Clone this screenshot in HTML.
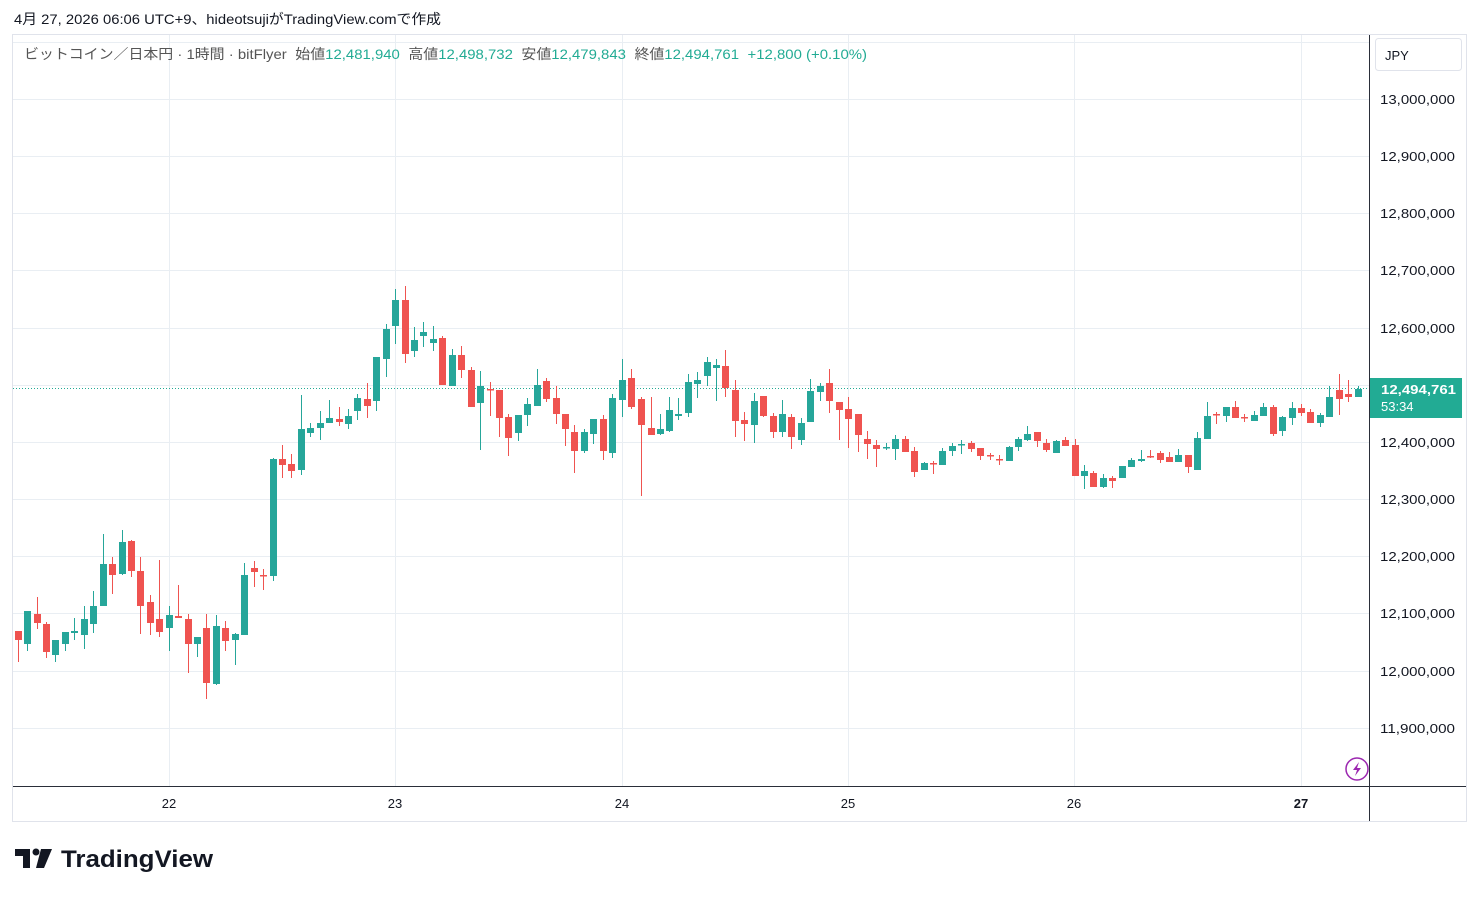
<!DOCTYPE html>
<html><head><meta charset="utf-8"><style>
body{margin:0;background:#fff;width:1479px;height:896px;overflow:hidden;font-family:"Liberation Sans","Noto Sans CJK JP",sans-serif}
</style></head><body>
<svg width="1479" height="896" xmlns="http://www.w3.org/2000/svg" font-family="Liberation Sans, Noto Sans CJK JP, sans-serif">
<text x="14" y="24" font-size="14" fill="#131722" textLength="427" lengthAdjust="spacingAndGlyphs">4月 27, 2026 06:06 UTC+9、hideotsujiがTradingView.comで作成</text>
<rect x="12.5" y="34.5" width="1454" height="787" fill="none" stroke="#e0e3eb"/>
<g stroke="#e9eef3" stroke-width="1">
<line x1="13" y1="42.5" x2="1369" y2="42.5"/>
<line x1="13" y1="99.5" x2="1369" y2="99.5"/><line x1="13" y1="156.5" x2="1369" y2="156.5"/><line x1="13" y1="213.5" x2="1369" y2="213.5"/><line x1="13" y1="270.5" x2="1369" y2="270.5"/><line x1="13" y1="328.5" x2="1369" y2="328.5"/><line x1="13" y1="385.5" x2="1369" y2="385.5"/><line x1="13" y1="442.5" x2="1369" y2="442.5"/><line x1="13" y1="499.5" x2="1369" y2="499.5"/><line x1="13" y1="556.5" x2="1369" y2="556.5"/><line x1="13" y1="613.5" x2="1369" y2="613.5"/><line x1="13" y1="671.5" x2="1369" y2="671.5"/><line x1="13" y1="728.5" x2="1369" y2="728.5"/>
<line x1="169.5" y1="35" x2="169.5" y2="786"/><line x1="395.5" y1="35" x2="395.5" y2="786"/><line x1="622.5" y1="35" x2="622.5" y2="786"/><line x1="848.5" y1="35" x2="848.5" y2="786"/><line x1="1074.5" y1="35" x2="1074.5" y2="786"/><line x1="1301.5" y1="35" x2="1301.5" y2="786"/>
</g>
<line x1="13" y1="388.5" x2="1369" y2="388.5" stroke="#22ab94" stroke-dasharray="1,2"/>
<g id="c"></g>
<line x1="1369.5" y1="35" x2="1369.5" y2="821" stroke="#2a2e39"/>
<line x1="13" y1="786.5" x2="1466" y2="786.5" stroke="#2a2e39"/>
<text x="24" y="59" font-size="14" fill="#555" textLength="843" lengthAdjust="spacingAndGlyphs"><tspan>ビットコイン／日本円 · 1時間 · bitFlyer</tspan><tspan dx="8">始値</tspan><tspan fill="#22ab94">12,481,940</tspan><tspan dx="8">高値</tspan><tspan fill="#22ab94">12,498,732</tspan><tspan dx="8">安値</tspan><tspan fill="#22ab94">12,479,843</tspan><tspan dx="8">終値</tspan><tspan fill="#22ab94">12,494,761</tspan><tspan dx="8" fill="#22ab94">+12,800 (+0.10%)</tspan></text>
<rect x="1375.5" y="38.5" width="86" height="32" rx="3" fill="#fff" stroke="#e0e3eb"/>
<text x="1385" y="60" font-size="13" fill="#131722">JPY</text>
<g font-size="13" fill="#131722">
<text x="1380" y="104" textLength="75" lengthAdjust="spacingAndGlyphs">13,000,000</text><text x="1380" y="161" textLength="75" lengthAdjust="spacingAndGlyphs">12,900,000</text><text x="1380" y="218" textLength="75" lengthAdjust="spacingAndGlyphs">12,800,000</text><text x="1380" y="275" textLength="75" lengthAdjust="spacingAndGlyphs">12,700,000</text><text x="1380" y="333" textLength="75" lengthAdjust="spacingAndGlyphs">12,600,000</text><text x="1380" y="447" textLength="75" lengthAdjust="spacingAndGlyphs">12,400,000</text><text x="1380" y="504" textLength="75" lengthAdjust="spacingAndGlyphs">12,300,000</text><text x="1380" y="561" textLength="75" lengthAdjust="spacingAndGlyphs">12,200,000</text><text x="1380" y="618" textLength="75" lengthAdjust="spacingAndGlyphs">12,100,000</text><text x="1380" y="676" textLength="75" lengthAdjust="spacingAndGlyphs">12,000,000</text><text x="1380" y="733" textLength="75" lengthAdjust="spacingAndGlyphs">11,900,000</text>
</g>
<rect x="1370" y="378" width="92" height="40" fill="#22ab94"/>
<text x="1381" y="394" font-size="13" fill="#fff" font-weight="bold" textLength="75" lengthAdjust="spacingAndGlyphs">12,494,761</text>
<text x="1381" y="411" font-size="13" fill="#fff">53:34</text>
<g font-size="13" fill="#131722" text-anchor="middle">
<text x="169" y="808">22</text><text x="395" y="808">23</text><text x="622" y="808">24</text><text x="848" y="808">25</text><text x="1074" y="808">26</text><text x="1301" y="808" font-weight="bold">27</text>
</g>
<circle cx="1357" cy="769" r="11" fill="#fff" stroke="#9c27b0" stroke-width="1.5"/>
<path d="M1359 762 L1353 770 L1357 770 L1355 776 L1361 768 L1357 768 Z" fill="#9c27b0"/>
<path d="M15 849 H30 V868 H23 V856 H15 Z" fill="#131722"/><circle cx="36" cy="852" r="3.5" fill="#131722"/><path d="M41 849 H52 L44 868 H36 Z" fill="#131722"/>
<text x="61" y="867" font-size="24" font-weight="bold" fill="#131722" textLength="152" lengthAdjust="spacingAndGlyphs">TradingView</text>
</svg>
<script>
var d=[[18,631,640,631,662,'r'],[27,611,644,611,651,'g'],[37,614,623,597,629,'r'],[46,624,652,622,658,'r'],[55,640,655,640,662,'g'],[65,632,644,632,651,'g'],[74,631,633,618,640,'g'],[84,619,635,606,649,'g'],[93,606,624,591,633,'g'],[103,564,606,534,606,'g'],[112,564,575,557,594,'r'],[122,542,574,530,575,'g'],[131,541,571,540,577,'r'],[140,571,606,557,634,'r'],[150,602,623,595,635,'r'],[159,619,632,560,637,'r'],[169,615,628,606,651,'g'],[178,616,618,585,618,'r'],[188,619,644,614,673,'r'],[197,637,644,637,657,'g'],[206,628,683,614,699,'r'],[216,626,684,615,685,'g'],[225,628,641,621,651,'r'],[235,634,640,633,665,'g'],[244,575,635,563,635,'g'],[254,568,572,561,587,'r'],[263,575,576,569,590,'r'],[273,459,576,458,581,'g'],[282,459,465,445,478,'r'],[291,464,471,454,478,'r'],[301,429,470,395,475,'g'],[310,428,433,423,437,'g'],[320,423,428,411,440,'g'],[329,418,423,400,423,'g'],[339,419,422,407,426,'r'],[348,416,424,409,429,'g'],[357,398,411,394,420,'g'],[367,399,406,383,418,'r'],[376,357,401,357,411,'g'],[386,329,359,324,377,'g'],[395,300,326,289,344,'g'],[405,300,354,286,363,'r'],[414,340,351,327,357,'g'],[423,332,336,322,347,'g'],[433,339,343,326,351,'g'],[442,338,385,336,385,'r'],[452,355,386,349,386,'g'],[461,355,370,346,378,'r'],[471,370,407,367,407,'r'],[480,386,403,371,450,'g'],[490,389,390,382,416,'r'],[499,390,418,390,437,'r'],[508,417,438,414,456,'r'],[518,415,433,415,441,'g'],[527,404,415,398,426,'g'],[537,385,406,369,406,'g'],[546,381,399,378,402,'r'],[556,398,414,386,424,'r'],[565,414,429,414,446,'r'],[574,432,451,425,473,'r'],[584,432,451,429,453,'g'],[593,419,434,419,444,'g'],[603,419,451,415,460,'r'],[612,398,453,394,458,'g'],[622,380,400,359,417,'g'],[631,378,407,369,409,'r'],[641,399,425,397,496,'r'],[651,428,435,397,435,'r'],[660,429,434,414,435,'g'],[669,410,431,397,432,'g'],[678,414,416,398,420,'g'],[688,382,413,374,417,'g'],[697,380,384,372,398,'g'],[707,362,376,357,386,'g'],[716,365,368,359,401,'g'],[725,366,388,350,397,'r'],[735,390,421,380,437,'r'],[744,420,424,412,441,'r'],[754,401,425,393,443,'g'],[763,396,416,396,417,'r'],[773,416,432,413,438,'r'],[782,414,432,400,437,'g'],[791,417,437,414,449,'r'],[801,423,440,418,445,'g'],[810,391,422,379,422,'g'],[820,386,392,383,401,'g'],[829,383,401,369,413,'r'],[839,402,410,402,440,'r'],[848,409,419,397,448,'r'],[858,414,435,414,452,'r'],[867,439,444,431,459,'r'],[876,445,449,440,467,'r'],[886,447,448,443,450,'g'],[895,439,449,435,460,'g'],[905,439,452,436,452,'r'],[914,451,472,447,477,'r'],[924,463,470,462,470,'g'],[933,463,464,461,474,'r'],[942,451,465,448,465,'g'],[952,446,451,443,456,'g'],[961,444,445,440,454,'g'],[971,443,449,441,452,'r'],[980,448,456,448,460,'r'],[990,455,456,453,460,'r'],[999,459,460,455,465,'r'],[1009,447,461,446,461,'g'],[1018,439,447,437,451,'g'],[1027,434,440,426,441,'g'],[1037,432,441,432,447,'r'],[1046,443,450,439,452,'r'],[1056,441,453,440,453,'g'],[1065,440,446,437,446,'r'],[1075,445,476,439,476,'r'],[1084,471,476,465,489,'g'],[1093,473,487,471,487,'r'],[1103,478,487,474,488,'g'],[1112,478,481,476,488,'r'],[1122,466,478,466,478,'g'],[1131,460,467,458,467,'g'],[1141,459,461,450,462,'g'],[1150,456,457,450,458,'r'],[1160,453,460,451,463,'r'],[1169,457,462,452,462,'r'],[1178,455,462,449,462,'g'],[1188,455,467,455,473,'r'],[1197,438,470,432,470,'g'],[1207,416,439,402,439,'g'],[1216,414,415,412,424,'r'],[1226,407,416,407,422,'g'],[1235,407,418,401,418,'r'],[1244,417,418,414,422,'r'],[1254,415,421,411,421,'g'],[1263,407,416,403,416,'g'],[1273,407,434,405,436,'r'],[1282,417,431,416,436,'g'],[1292,408,418,402,425,'g'],[1301,408,413,404,416,'r'],[1310,412,423,409,423,'r'],[1320,415,423,413,427,'g'],[1329,397,417,386,417,'g'],[1339,390,399,374,415,'r'],[1348,394,397,380,402,'r'],[1358,389,397,386,397,'g']];
var s='';d.forEach(function(c){var col=c[5]=='g'?'#26a69a':'#ef5350';var h=Math.max(c[2]-c[1],1.5);s+='<line x1="'+(c[0]+0.5)+'" y1="'+c[3]+'" x2="'+(c[0]+0.5)+'" y2="'+c[4]+'" stroke="'+col+'"/><rect x="'+(c[0]-3)+'" y="'+c[1]+'" width="7" height="'+h+'" fill="'+col+'"/>';});
document.getElementById('c').innerHTML=s;
</script>
</body></html>
